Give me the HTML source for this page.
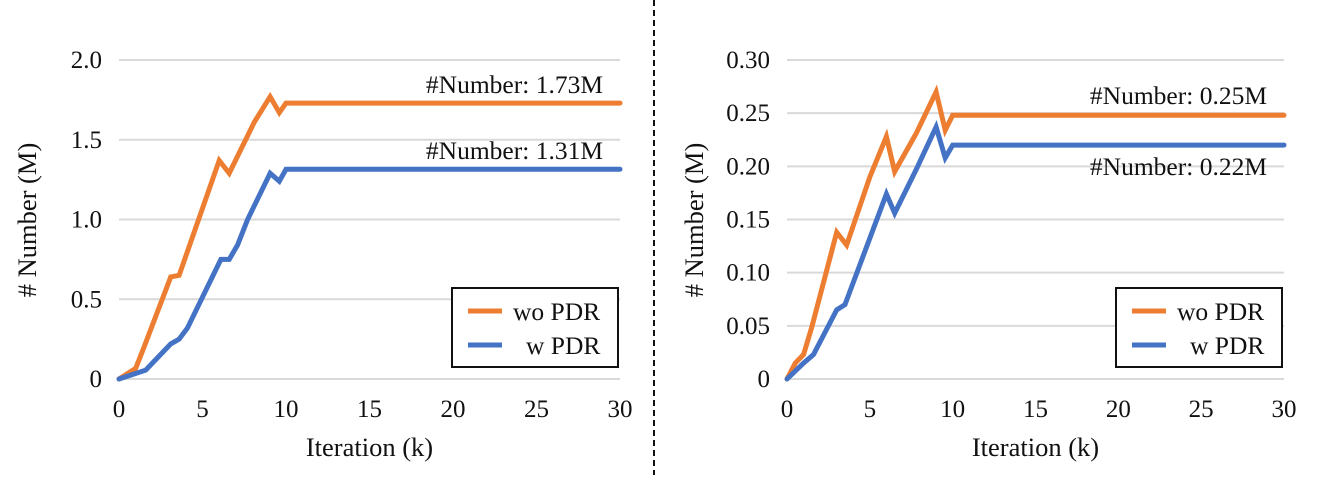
<!DOCTYPE html>
<html><head><meta charset="utf-8"><style>
body{margin:0;background:#fff;width:1328px;height:475px;overflow:hidden}
svg text{font-family:"Liberation Serif",serif;fill:#111}
</style></head><body>
<svg id="chart" width="1328" height="475" viewBox="0 0 1328 475" xmlns="http://www.w3.org/2000/svg">
<line x1="654" y1="0" x2="654" y2="475" stroke="#111" stroke-width="2" stroke-dasharray="6,4"/>
</svg>
<script>
const leftX = [0,1,1.5,3.1,3.6,6,6.6,8.1,9.05,9.6,10,30];
const leftWo = [0,0.067,0.2,0.64,0.65,1.37,1.29,1.61,1.77,1.67,1.73,1.73];
const leftWX = [0,1.6,3.1,3.6,4.1,6.1,6.6,7.1,7.7,9.05,9.6,10,30];
const leftW = [0,0.056,0.22,0.25,0.32,0.75,0.75,0.84,1.0,1.29,1.24,1.315,1.315];
const leftTicks = [0,0.5,1.0,1.5,2.0];
const leftTickLabels = ["0","0.5","1.0","1.5","2.0"];
const rightX = [0,0.5,1,1.5,3,3.6,5,6,6.5,7.8,9,9.55,10,30];
const rightWo = [0,0.015,0.023,0.049,0.138,0.126,0.19,0.228,0.195,0.231,0.27,0.234,0.248,0.248];
const rightWX = [0,1,1.6,3,3.5,6,6.5,7.8,9,9.55,10,30];
const rightW = [0,0.015,0.023,0.065,0.07,0.174,0.156,0.197,0.237,0.208,0.22,0.22];
const rightTicks = [0,0.05,0.10,0.15,0.20,0.25,0.30];
const rightTickLabels = ["0","0.05","0.10","0.15","0.20","0.25","0.30"];
const xTicks = [0,5,10,15,20,25,30];
const NS = "http://www.w3.org/2000/svg";
const svg = document.getElementById('chart');
function mk(tag, attrs, parent){const e=document.createElementNS(NS,tag);for(const k in attrs)e.setAttribute(k,attrs[k]);(parent||svg).appendChild(e);return e;}
function panel(o){
  const g = mk('g',{});
  
  
  const sx = v => o.x0 + (v/30)*(o.x1-o.x0);
  const sy = v => o.y0 - (v/o.ymax)*(o.y0-o.y1);
  o.ticks.forEach((t,i)=>{
    const l = mk('line',{x1:o.x0,x2:o.x1,y1:sy(t),y2:sy(t),stroke:'#d9d9d9','stroke-width':2},g);
    
    
    const tx = mk('text',{x:o.x0-17,y:sy(t)+8,'text-anchor':'end','font-size':25},g);
    tx.textContent = o.labels[i];
    
    
  });
  xTicks.forEach(t=>{
    const tx = mk('text',{x:sx(t),y:417,'text-anchor':'middle','font-size':25},g);
    tx.textContent = String(t);
    
    
  });
  const xt = mk('text',{x:(o.x0+o.x1)/2,y:456,'text-anchor':'middle','font-size':26.5},g);
  xt.textContent='Iteration (k)';
  
  
  const yt = mk('text',{x:0,y:0,'text-anchor':'middle','font-size':26.5,transform:`translate(${o.ytx},220) rotate(-90)`},g);
  yt.textContent='# Number (M)';
  
  
  [[o.woX,o.wo,'#ED7D31','series-wo-pdr'],[o.wX,o.w,'#4472C4','series-w-pdr']].forEach(([xs,ys,c,n])=>{
    const p = mk('polyline',{points:xs.map((x,i)=>sx(x)+','+sy(ys[i])).join(' '),fill:'none',stroke:c,'stroke-width':5,'stroke-linejoin':'miter','stroke-linecap':'round'},g);
    
    
  });
  o.ann.forEach(a=>{
    const tx = mk('text',{x:o.x1-17,y:a.y,'text-anchor':'end','font-size':25.5},g);
    tx.textContent = a.t;
    
    
  });
  const lg = mk('g',{},g);
  
  
  mk('rect',{x:o.x1-168,y:288,width:166,height:79,fill:'#fff',stroke:'#111','stroke-width':2},lg);
  [['wo PDR','#ED7D31',311,'legend-entry-wo-pdr',o.x1-107],['w PDR','#4472C4',345,'legend-entry-w-pdr',o.x1-94]].forEach(([t,c,y,n,tx0])=>{
    const e = mk('g',{},lg);
    
    
    mk('line',{x1:o.x1-152,x2:o.x1-118,y1:y,y2:y,stroke:c,'stroke-width':5},e);
    const tx = mk('text',{x:tx0,y:y+9,'font-size':25.5},e);
    tx.textContent=t;
  });
}
panel({name:'left-panel',x0:119,x1:620,y0:379,y1:60,ymax:2.0,ticks:leftTicks,labels:leftTickLabels,woX:leftX,wo:leftWo,wX:leftWX,w:leftW,ytx:36,
  ann:[{t:'#Number: 1.73M',y:93},{t:'#Number: 1.31M',y:159}]});
panel({name:'right-panel',x0:787,x1:1284,y0:379,y1:60,ymax:0.30,ticks:rightTicks,labels:rightTickLabels,woX:rightX,wo:rightWo,wX:rightWX,w:rightW,ytx:703,
  ann:[{t:'#Number: 0.25M',y:104},{t:'#Number: 0.22M',y:175}]});
</script>
</body></html>
